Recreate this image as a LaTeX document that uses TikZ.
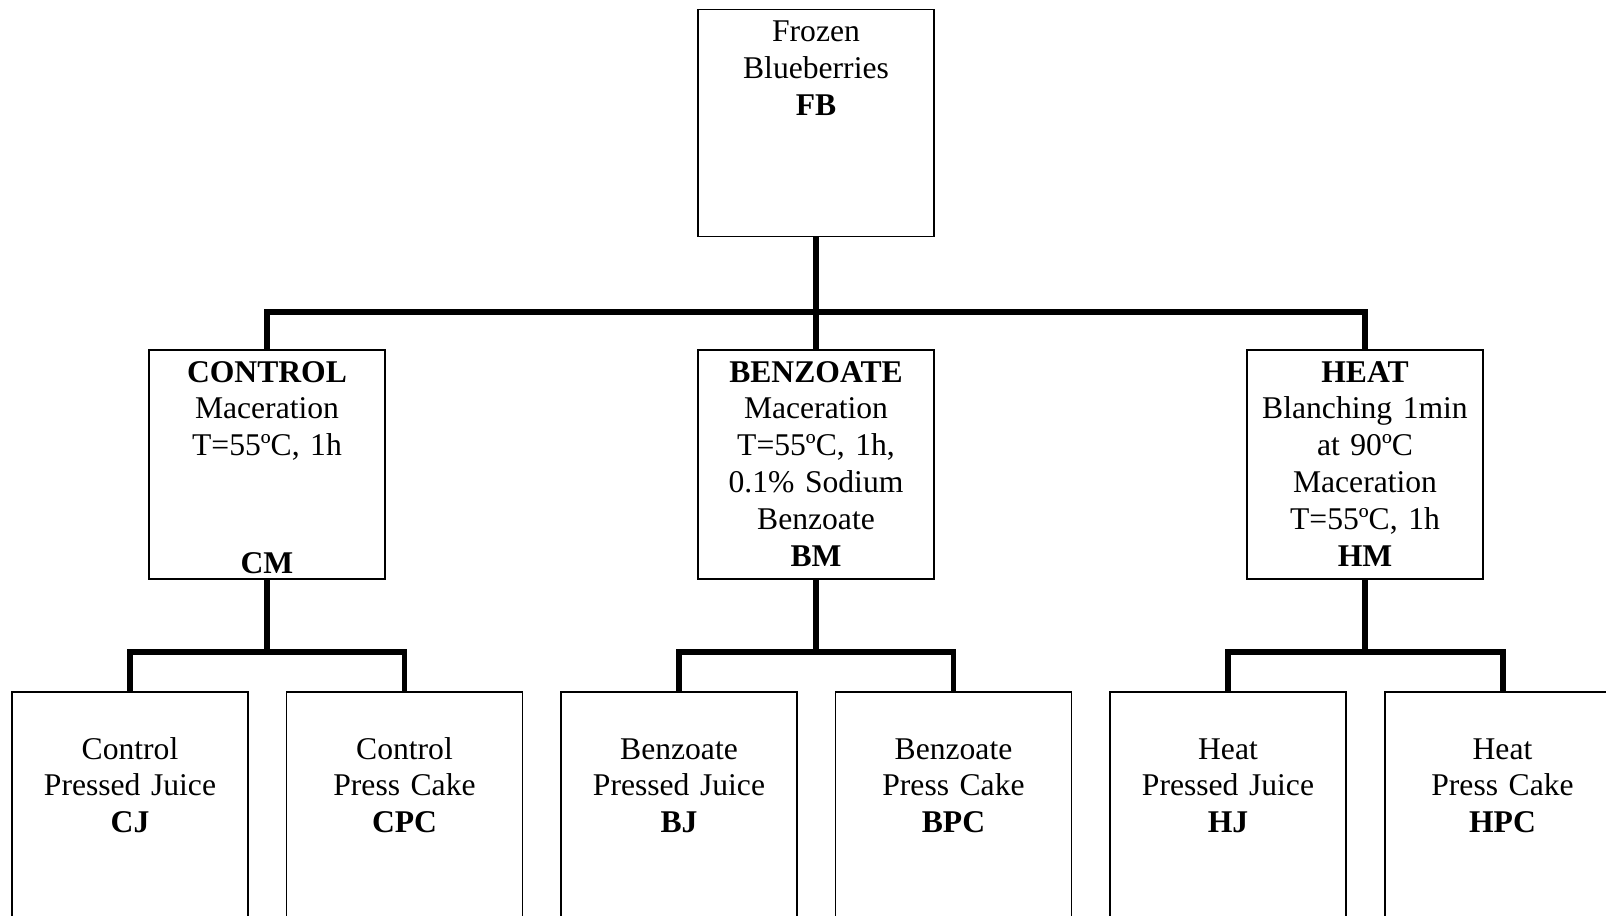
\documentclass[tikz,border=0pt]{standalone}
\usepackage{fontspec}
\setmainfont{Liberation Serif}
\usetikzlibrary{positioning, calc}

\tikzset{
    box/.style={draw, line width=1.1pt, minimum width=4.72cm, inner sep=0pt},
    txt/.style={align=center, text width=4.6cm, anchor=base, inner sep=0pt,
        font=\fontsize{18}{21}\selectfont},
    link/.style={line width=3.4pt},
}

\begin{document}
\begin{tikzpicture}[x=0.02cm, y=-0.02cm]
        \clip (0, 0) rectangle (1606, 916);

        % Сырьё
        \node[box, minimum height=4.54cm] (fb) at (816, 123) {};
        \node[txt] (fbt) at ($(fb.north)+(0, 33)$) {Frozen\\Blueberries\\\textbf{FB}};

        % Мацерация
        \node[box, minimum height=4.58cm] (cm) at (267, 464.5) {};
        \node[box, minimum height=4.58cm] (bm) at (816, 464.5) {};
        \node[box, minimum height=4.58cm] (hm) at (1365, 464.5) {};

        \node[txt] (cmt) at ($(cm.north)+(0, 33)$) {\textbf{CONTROL}\\Maceration\\T=55ºC, 1h};
        \node[txt] (cmc) at ($(cm.south)+(0, -6)$) {\textbf{CM}};
        \node[txt] (bmt) at ($(bm.north)+(0, 33)$) {\textbf{BENZOATE}\\Maceration\\T=55ºC, 1h,\\0.1\% Sodium\\Benzoate\\\textbf{BM}};
        \node[txt] (hmt) at ($(hm.north)+(0, 33)$) {\textbf{HEAT}\\Blanching 1min\\at 90ºC\\Maceration\\T=55ºC, 1h\\\textbf{HM}};

        % Прессование
        \foreach \name/\x/\first/\second/\code in {
            cj/130/Control/Pressed Juice/CJ,
            cpc/404.5/Control/Press Cake/CPC,
            bj/679/Benzoate/Pressed Juice/BJ,
            bpc/953.5/Benzoate/Press Cake/BPC,
            hj/1228/Heat/Pressed Juice/HJ,
            hpc/1502.5/Heat/Press Cake/HPC} {
            \node[box, minimum height=5.2cm] (\name) at (\x, 822) {};
            \node[txt] (\name t) at ($(\name.north)+(0, 68)$) {\first\\\second\\\textbf{\code}};
        }

        % Линии
        \coordinate (bus) at (816, 312);
        \coordinate (cbus) at (267, 652);
        \coordinate (bbus) at (816, 652);
        \coordinate (hbus) at (1365, 652);

        \draw[link] (fb.south) -- (bus);
        \draw[link] (bus) -- (bm.north);
        \draw[link] (cm.north) |- (bus) -| (hm.north);

        \draw[link] (cm.south) -- (cbus);
        \draw[link] (cj.north) |- (cbus) -| (cpc.north);
        \draw[link] (bm.south) -- (bbus);
        \draw[link] (bj.north) |- (bbus) -| (bpc.north);
        \draw[link] (hm.south) -- (hbus);
        \draw[link] (hj.north) |- (hbus) -| (hpc.north);
\end{tikzpicture}
\end{document}
